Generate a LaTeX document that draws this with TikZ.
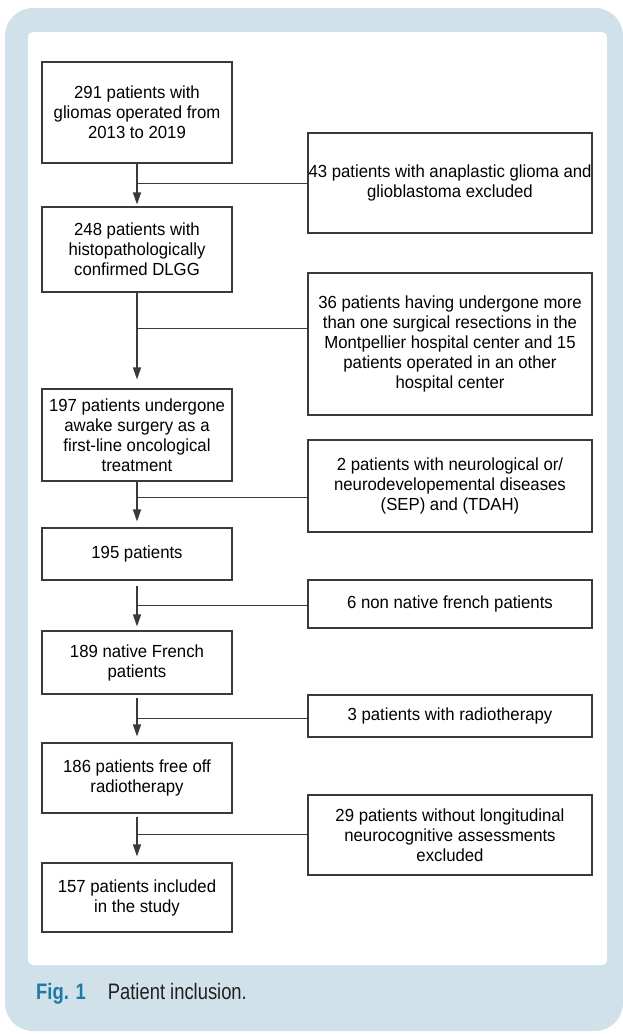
\documentclass[tikz,border=0pt]{standalone}
\usepackage{fontspec}
\setmainfont{Liberation Sans}[FakeStretch=0.955]
\newfontfamily\capfont[FakeStretch=0.82]{Liberation Sans}
\usetikzlibrary{arrows.meta}
\definecolor{panelblue}{RGB}{208,225,234}
\definecolor{figblue}{RGB}{28,122,163}
\definecolor{boxline}{RGB}{58,58,58}
\definecolor{captext}{RGB}{35,31,32}

\begin{document}
\begin{tikzpicture}[x=1bp,y=-1bp,
        incl/.style={draw=boxline,line width=1.1bp,inner sep=0pt,align=center,
            minimum width=190bp,font=\fontsize{17.6}{20}\selectfont},
        excl/.style={incl,minimum width=284bp},
        flow/.style={draw=boxline,line width=1.1bp,-{Triangle[length=12bp,width=8bp]}},
        joinline/.style={draw=boxline,line width=1bp}]

    \useasboundingbox (0,0) rectangle (623,1034);
    \fill[panelblue,rounded corners=28bp] (5,8) rectangle (623,1031);
    \fill[white,rounded corners=5bp] (28,32) rectangle (607,965);

    \node[incl,minimum height=101bp] (n291) at (137,112.5) {291 patients with\\gliomas operated from\\2013 to 2019};
    \node[incl,minimum height=85bp] (n248) at (137,249.5) {248 patients with\\histopathologically\\confirmed DLGG};
    \node[incl,minimum height=92bp] (n197) at (137,435) {197 patients undergone\\awake surgery as a\\first-line oncological\\treatment};
    \node[incl,minimum height=52bp] (n195) at (137,554) {195 patients};
    \node[incl,minimum height=63bp] (n189) at (137,662.5) {189 native French\\patients};
    \node[incl,minimum height=70bp] (n186) at (137,778) {186 patients free off\\radiotherapy};
    \node[incl,minimum height=69bp] (n157) at (137,897.5) {157 patients included\\in the study};

    \node[excl,minimum height=100bp] (x43) at (450,183) {43 patients with anaplastic glioma and\\glioblastoma excluded};
    \node[excl,minimum height=142bp] (x51) at (450,344) {36 patients having undergone more\\than one surgical resections in the\\Montpellier hospital center and 15\\patients operated in an other\\hospital center};
    \node[excl,minimum height=92bp] (x2) at (450,486) {2 patients with neurological or/\\neurodevelopemental diseases\\(SEP) and (TDAH)};
    \node[excl,minimum height=48bp] (x6) at (450,604) {6 non native french patients};
    \node[excl,minimum height=42bp] (x3) at (450,716) {3 patients with radiotherapy};
    \node[excl,minimum height=80bp] (x29) at (450,835) {29 patients without longitudinal\\neurocognitive assessments\\excluded};

    \draw[flow,shorten >=2bp] (n291) -- (n248);
    \draw[flow,shorten >=9bp] (n248) -- (n197);
    \draw[flow,shorten >=6bp] (n197) -- (n195);
    \draw[flow,shorten <=5bp,shorten >=4bp] (n195) -- (n189);
    \draw[flow,shorten <=3bp,shorten >=6bp] (n189) -- (n186);
    \draw[flow,shorten <=3bp,shorten >=6bp] (n186) -- (n157);

    \coordinate (j43) at (137,183);
    \coordinate (j51) at (137,328);
    \coordinate (j2) at (137,497);
    \coordinate (j6) at (137,605);
    \coordinate (j3) at (137,718);
    \coordinate (j29) at (137,834);
    \draw[joinline] (j43) -- (j43 -| x43.west);
    \draw[joinline] (j51) -- (j51 -| x51.west);
    \draw[joinline] (j2) -- (j2 -| x2.west);
    \draw[joinline] (j6) -- (j6 -| x6.west);
    \draw[joinline] (j3) -- (j3 -| x3.west);
    \draw[joinline] (j29) -- (j29 -| x29.west);

    \node[anchor=west,inner sep=0pt,text=captext,font=\capfont\fontsize{22.5}{26}\selectfont] (cap) at (36,994)
        {\textcolor{figblue}{\bfseries Fig. 1}\hspace{22bp}Patient inclusion.};
\end{tikzpicture}
\end{document}
